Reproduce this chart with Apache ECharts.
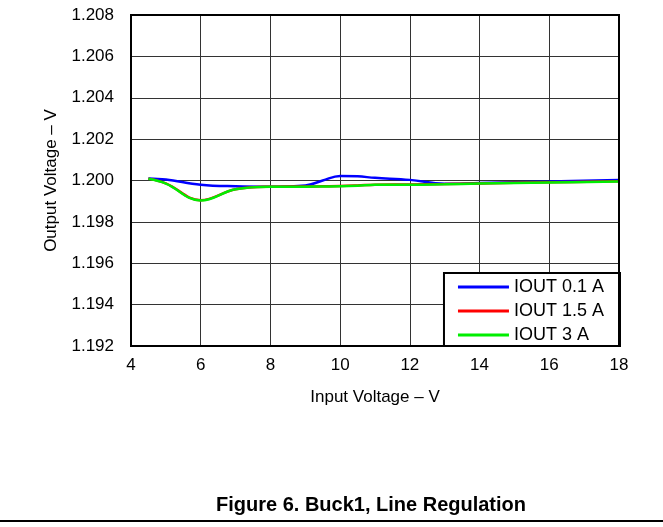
<!DOCTYPE html>
<html>
<head>
<meta charset="utf-8">
<script src="https://cdn.jsdelivr.net/npm/echarts@6/dist/echarts.min.js"></script>
<style>
html, body { margin: 0; padding: 0; background: #fff; }
#chart { width: 663px; height: 527px; }
</style>
</head>
<body>
<div id="chart"></div>
<script>
// input voltage (V)
var vin = [4.5, 5, 6, 7, 8, 9, 9.5, 10, 10.5, 11, 12, 13, 14, 16, 18]
// output voltage (V) per load current
var iout01 = [1.20010, 1.20005, 1.19980, 1.19972, 1.19970, 1.19976, 1.20000, 1.20022, 1.20020, 1.20013, 1.20003, 1.19984, 1.19988, 1.19995, 1.20003]
var iout15 = [1.20009, 1.19986, 1.19905, 1.19958, 1.19970, 1.19971, 1.19972, 1.19973, 1.19976, 1.19980, 1.19981, 1.19983, 1.19986, 1.19991, 1.19996]
var iout3 = [1.20008, 1.19985, 1.19903, 1.19958, 1.19970, 1.19970, 1.19971, 1.19972, 1.19975, 1.19980, 1.19980, 1.19982, 1.19985, 1.19990, 1.19995]
var names = ['IOUT 0.1 A', 'IOUT 1.5 A', 'IOUT 3 A']

function pairs (ys) {
  return vin.map(function (x, i) { return [x, ys[i]] })
}

var chart = echarts.init(document.getElementById('chart'))
var font = 'Liberation Sans, Arial, sans-serif'
var option = {
  animation: false,
  textStyle: { fontFamily: font },
  grid: { left: 131, right: 44, top: 15, bottom: 181 },
  title: {
    text: 'Figure 6. Buck1, Line Regulation',
    left: 366,
    textAlign: 'center',
    top: 490,
    textStyle: { fontSize: 20, fontWeight: 'bold', color: '#000', fontFamily: font }
  },
  legend: {
    data: names,
    orient: 'vertical',
    right: 43,
    bottom: 181,
    backgroundColor: '#fff',
    borderColor: '#000',
    borderWidth: 2,
    padding: [5, 16, 2, 14],
    itemGap: 6,
    icon: 'rect',
    itemWidth: 51,
    itemHeight: 3,
    textStyle: { fontSize: 18, color: '#000' }
  },
  xAxis: {
    type: 'value',
    min: 4,
    max: 18,
    interval: 2,
    name: 'Input Voltage – V',
    nameLocation: 'middle',
    nameGap: 43,
    nameTextStyle: { fontSize: 17, color: '#000' },
    axisLine: { lineStyle: { color: '#000', width: 2 } },
    axisTick: { show: false },
    axisLabel: { fontSize: 17, color: '#000', margin: 11 },
    splitLine: { lineStyle: { color: '#333', width: 1 } }
  },
  yAxis: {
    type: 'value',
    min: 1.192,
    max: 1.208,
    interval: 0.002,
    name: 'Output Voltage – V',
    nameLocation: 'middle',
    nameGap: 71,
    nameTextStyle: { fontSize: 17, color: '#000' },
    axisLine: { show: true, lineStyle: { color: '#000', width: 2 } },
    axisTick: { show: false },
    axisLabel: {
      fontSize: 17,
      color: '#000',
      margin: 17,
      formatter: function (v) { return v.toFixed(3) }
    },
    splitLine: { lineStyle: { color: '#333', width: 1 } }
  },
  graphic: [
    {
      type: 'rect',
      shape: { x: 131, y: 15, width: 488, height: 331 },
      style: { fill: 'none', stroke: '#000', lineWidth: 2 },
      silent: true,
      z: 10
    },
    {
      type: 'line',
      shape: { x1: 0, y1: 521, x2: 663, y2: 521 },
      style: { stroke: '#000', lineWidth: 2 }
    }
  ],
  series: [
    { name: names[0], type: 'line', data: pairs(iout01), smooth: 0.4, showSymbol: false, color: '#0000ff', lineStyle: { width: 2.5 } },
    { name: names[1], type: 'line', data: pairs(iout15), smooth: 0.4, showSymbol: false, color: '#ff0000', lineStyle: { width: 2.5 } },
    { name: names[2], type: 'line', data: pairs(iout3), smooth: 0.4, showSymbol: false, color: '#00ee00', lineStyle: { width: 2.5 } }
  ]
}
chart.setOption(option)
</script>
</body>
</html>
